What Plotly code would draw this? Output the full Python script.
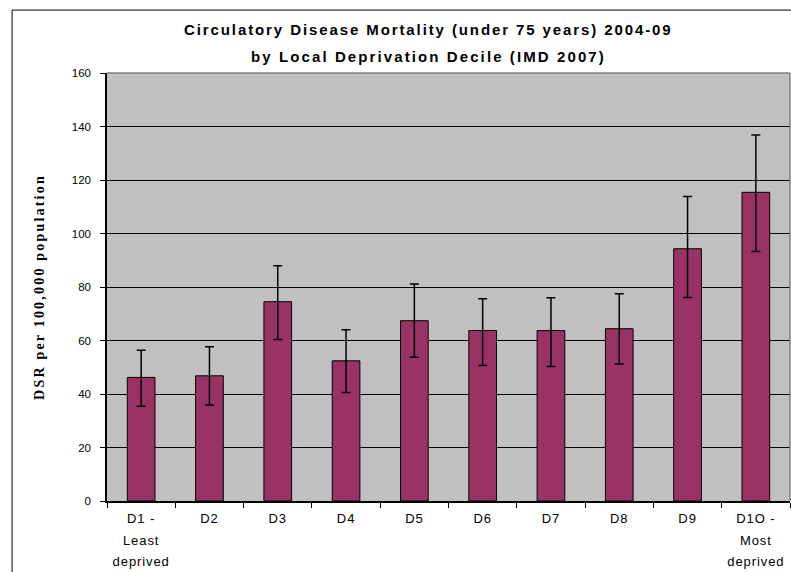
import plotly.graph_objects as go

categories = ["D1", "D2", "D3", "D4", "D5", "D6", "D7", "D8", "D9", "D10"]
tick_labels = ["D1 -<br>Least<br>deprived", "D2", "D3", "D4", "D5", "D6", "D7", "D8", "D9",
               "D1O -<br>Most<br>deprived"]
dsr = [46.2, 46.8, 74.5, 52.4, 67.4, 63.7, 63.7, 64.4, 94.3, 115.4]
upper_ci = [56.4, 57.7, 87.9, 64.0, 81.1, 75.6, 76.0, 77.5, 113.8, 136.8]
lower_ci = [35.4, 35.9, 60.4, 40.6, 53.7, 50.7, 50.3, 51.2, 76.1, 93.3]
y_ticks = [0, 20, 40, 60, 80, 100, 120, 140, 160]
title_lines = ["Circulatory Disease Mortality (under 75 years) 2004-09",
               "by Local Deprivation Decile (IMD 2007)"]
y_title = "DSR per 100,000 population"

plus = [u - v for u, v in zip(upper_ci, dsr)]
minus = [v - l for v, l in zip(dsr, lower_ci)]

fig = go.Figure()
fig.add_trace(go.Bar(
    x=categories, y=dsr,
    marker=dict(color="#993366", line=dict(color="black", width=1)),
    error_y=dict(type="data", symmetric=False, array=plus, arrayminus=minus,
                 color="black", thickness=1.5, width=4.5),
    width=0.405,
))

styled = ["<br>".join(
    f"<span style='font-size:13px;letter-spacing:0.9px'>{p}</span>" for p in t.split("<br>"))
    for t in tick_labels]

sans = "Liberation Sans, Arial, sans-serif"

fig.update_layout(
    width=791, height=572,
    margin=dict(l=107, r=1, t=73, b=71),
    paper_bgcolor="white",
    plot_bgcolor="#C0C0C0",
    showlegend=False,
    font=dict(family=sans, color="black"),
    xaxis=dict(
        tickmode="array", tickvals=categories, ticktext=styled,
        tickfont=dict(size=16.6, family=sans, color="black"),
        showline=True, linecolor="black", linewidth=2,
        ticks="outside", ticklen=5, tickcolor="black", tickson="boundaries",
        showgrid=False, fixedrange=True,
    ),
    yaxis=dict(
        range=[0, 160], tickmode="array", tickvals=y_ticks,
        tickfont=dict(size=11.5, family=sans, color="black"),
        showline=True, linecolor="black", linewidth=1.5,
        ticks="outside", ticklen=5, tickcolor="black",
        ticklabelstandoff=7,
        showgrid=True, gridcolor="black", gridwidth=1.2,
        zeroline=False,
        title=dict(text=f"<span style='letter-spacing:2.2px'>{y_title}</span>",
                   font=dict(family="Liberation Serif, Times New Roman, serif", size=14,
                             color="black", weight="bold"),
                   standoff=24),
    ),
    shapes=[
        dict(type="rect", xref="paper", yref="paper", x0=-0.139, x1=1.2, y0=-0.4, y1=1.147,
             line=dict(color="black", width=1), fillcolor="rgba(0,0,0,0)", layer="below"),
        dict(type="line", xref="paper", yref="paper", x0=0, x1=1, y0=1, y1=1,
             line=dict(color="#808080", width=1.5)),
        dict(type="line", xref="paper", yref="paper", x0=1, x1=1, y0=0, y1=1,
             line=dict(color="#808080", width=1.5)),
    ],
    annotations=[
        dict(text=f"<span style='letter-spacing:1.9px'><b>{title_lines[0]}</b></span>",
             xref="paper", yref="paper", x=0.47, y=1.1005, showarrow=False,
             xanchor="center", yanchor="middle",
             font=dict(size=15, family=sans, color="black")),
        dict(text=f"<span style='letter-spacing:2.1px'><b>{title_lines[1]}</b></span>",
             xref="paper", yref="paper", x=0.47, y=1.0397, showarrow=False,
             xanchor="center", yanchor="middle",
             font=dict(size=15, family=sans, color="black")),
    ],
)

fig.write_html("out.html", config={"displayModeBar": False},
               post_script="document.body.style.margin='0';document.body.style.overflow='hidden';")
